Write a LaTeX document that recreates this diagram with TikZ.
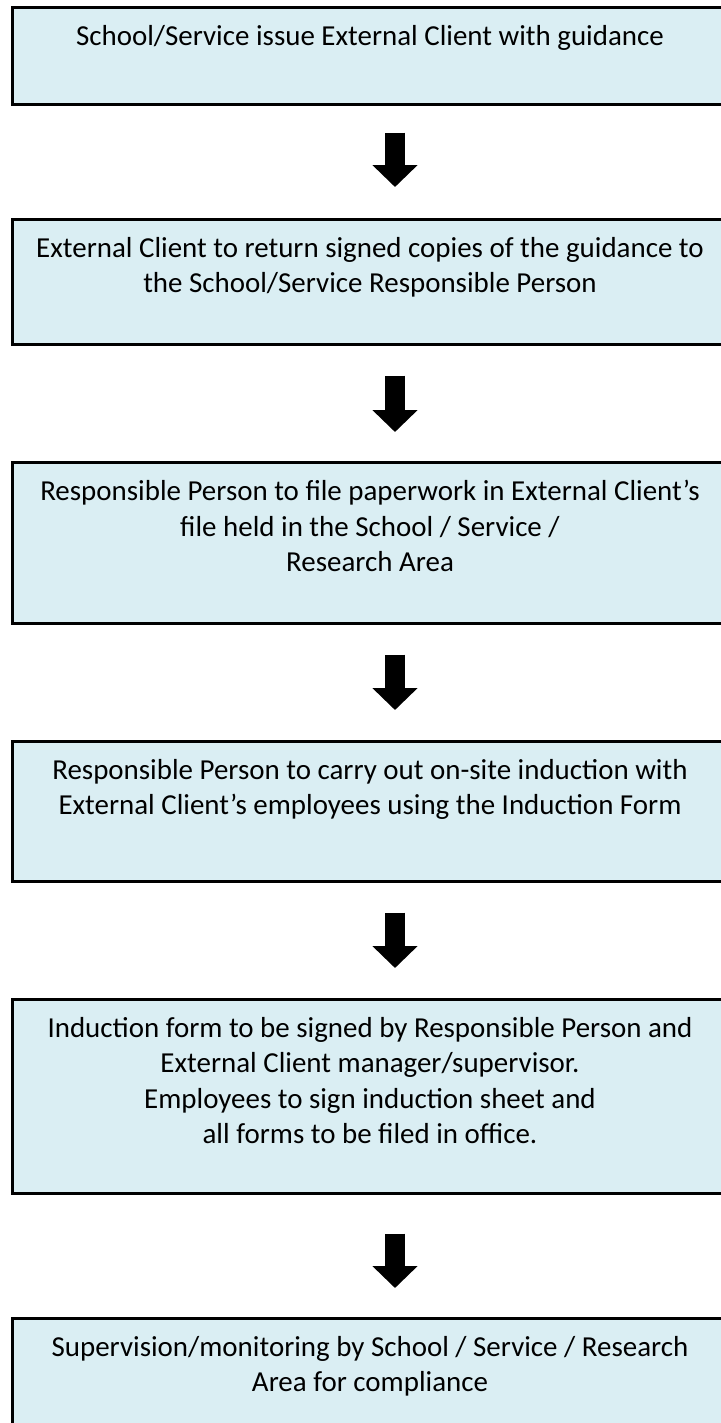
\documentclass[tikz,border=0pt]{standalone}
\usepackage{fontspec}
\setmainfont{Carlito}
\usetikzlibrary{arrows.meta}
\definecolor{boxfill}{HTML}{DAEEF3}
\begin{document}
\begin{tikzpicture}[x=0.38pt,y=-0.38pt,
  stepbox/.style={draw=black, fill=boxfill, line width=0.95pt, rectangle, inner sep=0pt,
    anchor=north west, minimum width={718*0.38pt}},
  steptext/.style={anchor=north, inner sep=0pt, align=center,
    font=\fontsize{11pt}{13.4pt}\selectfont},
  flowarrow/.style={line width={20*0.38pt},
    -{Triangle[width={44*0.38pt}, length={22*0.38pt}]}}]
\useasboundingbox (0,0) rectangle (721,1423);
\clip (0,0) rectangle (721,1423);
\coordinate (ax) at (395,0);
% boxes
\node[stepbox, minimum height={97*0.38pt}]  (b1) at (11,6) {};
\node[stepbox, minimum height={125*0.38pt}] (b2) at (11,218) {};
\node[stepbox, minimum height={161*0.38pt}] (b3) at (11,461) {};
\node[stepbox, minimum height={140*0.38pt}] (b4) at (11,740) {};
\node[stepbox, minimum height={194*0.38pt}] (b5) at (11,998) {};
\node[stepbox, minimum height={130*0.38pt}] (b6) at (11,1317) {};
% texts
\node[steptext] (t1) at (370,25) {School/Service issue External Client with guidance};
\node[steptext] (t2) at (370,237) {External Client to return signed copies of the guidance to\\the School/Service Responsible Person};
\node[steptext] (t3) at (370,480) {Responsible Person to file paperwork in External Client’s\\file held in the School / Service /\\Research Area};
\node[steptext] (t4) at (370,759) {Responsible Person to carry out on-site induction with\\External Client’s employees using the Induction Form};
\node[steptext] (t5) at (370,1017) {Induction form to be signed by Responsible Person and\\External Client manager/supervisor.\\Employees to sign induction sheet and\\all forms to be filed in office.};
\node[steptext] (t6) at (370,1336) {Supervision/monitoring by School / Service / Research\\Area for compliance};
% arrows
\draw[flowarrow, shorten <={27*0.38pt}, shorten >={31*0.38pt}] (b1.south -| ax) -- (b2.north -| ax);
\draw[flowarrow, shorten <={30*0.38pt}, shorten >={29*0.38pt}] (b2.south -| ax) -- (b3.north -| ax);
\draw[flowarrow, shorten <={30*0.38pt}, shorten >={30*0.38pt}] (b3.south -| ax) -- (b4.north -| ax);
\draw[flowarrow, shorten <={30*0.38pt}, shorten >={30*0.38pt}] (b4.south -| ax) -- (b5.north -| ax);
\draw[flowarrow, shorten <={39*0.38pt}, shorten >={29*0.38pt}] (b5.south -| ax) -- (b6.north -| ax);
\end{tikzpicture}
\end{document}
